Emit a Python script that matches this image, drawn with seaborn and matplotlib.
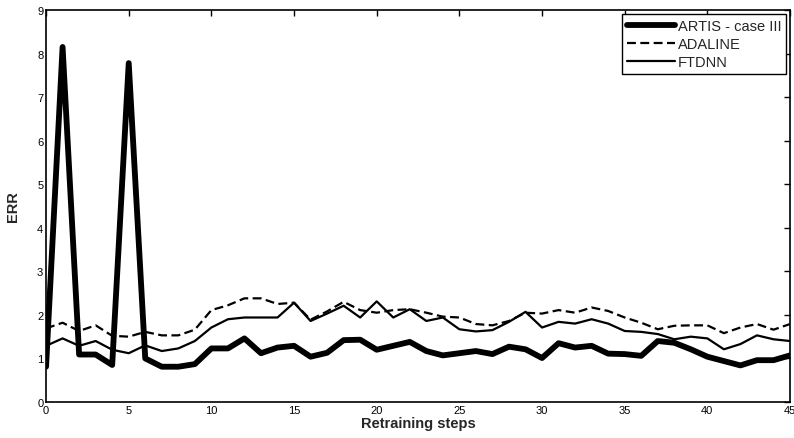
import pandas as pd
import matplotlib
matplotlib.use("Agg")
import matplotlib.pyplot as plt
import seaborn as sns

steps = list(range(46))

artis = [0.81, 8.15, 1.09, 1.09, 0.85, 7.78, 1.00, 0.81, 0.81, 0.87,
         1.23, 1.23, 1.46, 1.12, 1.25, 1.29, 1.04, 1.13, 1.42, 1.43,
         1.20, 1.29, 1.38, 1.17, 1.07, 1.12, 1.17, 1.10, 1.27, 1.21,
         1.01, 1.35, 1.25, 1.29, 1.11, 1.10, 1.06, 1.40, 1.36, 1.21,
         1.04, 0.94, 0.84, 0.96, 0.96, 1.07]

adaline = [1.69, 1.82, 1.63, 1.76, 1.52, 1.50, 1.61, 1.53, 1.53, 1.66,
           2.11, 2.22, 2.38, 2.38, 2.25, 2.28, 1.89, 2.08, 2.30, 2.11,
           2.05, 2.11, 2.13, 2.05, 1.96, 1.94, 1.79, 1.76, 1.86, 2.05,
           2.03, 2.11, 2.05, 2.17, 2.09, 1.94, 1.82, 1.67, 1.75, 1.76,
           1.76, 1.58, 1.71, 1.79, 1.66, 1.79]

ftdnn = [1.29, 1.46, 1.29, 1.40, 1.20, 1.12, 1.30, 1.17, 1.23, 1.40,
         1.71, 1.90, 1.94, 1.94, 1.94, 2.28, 1.86, 2.03, 2.21, 1.94,
         2.31, 1.94, 2.13, 1.86, 1.94, 1.67, 1.62, 1.65, 1.84, 2.07,
         1.71, 1.84, 1.80, 1.90, 1.80, 1.63, 1.61, 1.56, 1.44, 1.50,
         1.46, 1.21, 1.33, 1.53, 1.44, 1.40]

df = pd.DataFrame({"step": steps, "ARTIS - case III": artis,
                   "ADALINE": adaline, "FTDNN": ftdnn})

sns.set_style("white")
plt.rcParams["font.family"] = ["Liberation Sans", "DejaVu Sans"]

fig = plt.figure(figsize=(7.94, 4.39), dpi=100)
ax = fig.add_axes([0.058, 0.082, 0.937, 0.893])

sns.lineplot(data=df, x="step", y="ARTIS - case III", ax=ax, color="black",
             linewidth=4.2, label="ARTIS - case III")
sns.lineplot(data=df, x="step", y="ADALINE", ax=ax, color="black",
             linewidth=1.6, linestyle=(0, (4, 2)), label="ADALINE")
sns.lineplot(data=df, x="step", y="FTDNN", ax=ax, color="black",
             linewidth=1.6, label="FTDNN")

ax.set_xlim(0, 45)
ax.set_ylim(0, 9)
ax.set_xticks(range(0, 46, 5))
ax.set_yticks(range(0, 10))
ax.tick_params(direction="in", length=4, width=1, top=True, right=True,
               labelsize=8, pad=2, colors="black")
for s in ax.spines.values():
    s.set_visible(True)
    s.set_color("black")
    s.set_linewidth(1.2)

ax.set_xlabel("Retraining steps", fontsize=10.5, fontweight="bold", labelpad=1)
ax.set_ylabel("ERR", fontsize=10.5, fontweight="bold", labelpad=12)

leg = ax.legend(loc="upper right", fontsize=10.5, frameon=True, fancybox=False,
                edgecolor="black", framealpha=1, handlelength=3.3,
                handletextpad=0.2, borderpad=0.3, labelspacing=0.3,
                borderaxespad=0.3)
leg.get_frame().set_linewidth(1.0)

fig.savefig("out.png", dpi=100)
